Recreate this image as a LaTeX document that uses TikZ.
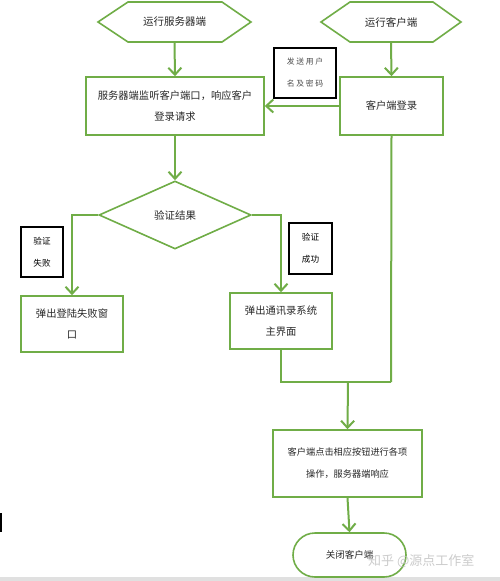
\documentclass[tikz,border=0pt]{standalone}
\usepackage{fontspec}
\setmainfont{Noto Sans CJK SC}
\newfontfamily\spaced[LetterSpace=22]{Noto Sans CJK SC}
\usetikzlibrary{arrows.meta,shapes.geometric}
\definecolor{fg}{RGB}{112,173,71}
\definecolor{txt}{RGB}{40,40,40}
\tikzset{
  flow/.style={draw=fg, line width=2pt},
  arr/.style={flow, -{Straight Barb[length=7pt,width=13pt,line width=2pt]}},
  box/.style={draw=fg, line width=1.6pt, rectangle, inner sep=0pt, align=center, text=txt, font=\fontsize{10.3}{21}\selectfont},
  lbl/.style={draw=black, line width=1.3pt, rectangle, inner sep=0pt, align=center, text=black, font=\fontsize{8.6}{22}\selectfont},
  hexlbl/.style={inner sep=0pt, text=txt, font=\fontsize{10.5}{12}\selectfont},
}
\begin{document}
\begin{tikzpicture}[x=1pt,y=-1pt]
\useasboundingbox (0,0) rectangle (500,581);
\fill[white] (0,0) rectangle (500,581);
\fill[black!12] (0,577) rectangle (500,581);
\fill[black] (0,513) rectangle (2,532);
% hexagons
\draw[draw=fg, line width=1.6pt] (98,22) -- (128,2) -- (222,2) -- (251,22) -- (222,42) -- (128,42) -- cycle;
\node[hexlbl, minimum width=153pt, minimum height=40pt] (h1) at (174.5,22) {运行服务器端};
\draw[draw=fg, line width=1.6pt] (321,22) -- (350,2) -- (433,2) -- (461,22) -- (433,42) -- (350,42) -- cycle;
\node[hexlbl, minimum width=140pt, minimum height=40pt] (h2) at (391,22) {运行客户端};
% boxes
\node[box, minimum width=178pt, minimum height=58pt] (b1) at (175,106) {服务器端监听客户端口，响应客户\\登录请求};
\node[box, minimum width=103pt, minimum height=58pt] (b2) at (391.5,106) {客户端登录};
\node[lbl, minimum width=62pt, minimum height=50pt, text=black!70, font=\fontsize{7.8}{22}\selectfont] (l1) at (305,73) {\spaced 发送用户\\\spaced 名及密码};
\node[draw=fg, line width=1.6pt, diamond, aspect=2.24, inner sep=0pt, minimum width=152pt, minimum height=68pt, text=txt, font=\fontsize{10.5}{12}\selectfont] (d) at (175,215) {验证结果};
\node[box, minimum width=102pt, minimum height=56pt] (bf) at (72,324) {弹出登陆失败窗\\口};
\node[lbl, minimum width=42pt, minimum height=50pt] (lf) at (42,252) {验证\\失败};
\node[box, minimum width=102pt, minimum height=56pt] (bs) at (281,321) {弹出通讯录系统\\主界面};
\node[lbl, minimum width=43pt, minimum height=51pt] (ls) at (310.5,248.5) {验证\\成功};
\node[box, minimum width=149pt, minimum height=67pt, font=\fontsize{9.2}{22}\selectfont] (b4) at (347.5,463.5) {客户端点击相应按钮进行各项\\操作，服务器端响应};
\node[draw=fg, line width=1.6pt, rectangle, rounded corners=22pt, minimum width=113pt, minimum height=44pt, inner sep=0pt, text=txt, font=\fontsize{9.5}{12}\selectfont] (end) at (349.5,555) {关闭客户端};
\node[text=black!25, font=\fontsize{13}{14}\selectfont, anchor=west, inner sep=0pt, opacity=0.8] (wm) at (368,561) {知乎 @源点工作室};
% connectors
\coordinate (j2) at (391,382);
\coordinate (j1) at (348,382);
\draw[arr] (h1.south) -- (b1.north);
\draw[arr] (h2.south) -- (b2.north);
\draw[arr] (b2.west) -- (b1.east);
\draw[arr] (b1.south) -- (d.north);
\draw[arr] (d.west) -| (bf.north);
\draw[arr] (d.east) -| (bs.north);
\draw[flow] (b2.south) -- (j2);
\draw[flow] (bs.south) |- (j2);
\draw[arr] (j1) -- (b4.north);
\draw[arr] (b4.south) -- (end.north);
\end{tikzpicture}
\end{document}
